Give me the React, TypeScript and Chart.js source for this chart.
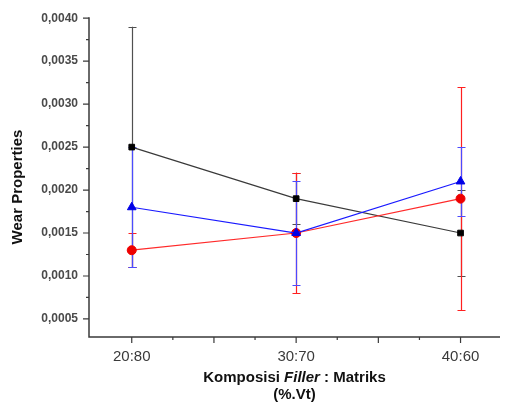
import React, { useEffect, useRef } from "react";
import { Chart, registerables } from "chart.js";

Chart.register(...registerables);

const categories = ["20:80", "30:70", "40:60"];
const blackValues = [0.0025, 0.0019, 0.0015];
const blackErrors = [0.0014, 0.0003, 0.0005];
const redValues = [0.0013, 0.0015, 0.0019];
const redErrors = [0.0002, 0.0007, 0.0013];
const blueValues = [0.0018, 0.0015, 0.0021];
const blueErrors = [0.0007, 0.0006, 0.0004];
const yTickValues = [0.0005, 0.001, 0.0015, 0.002, 0.0025, 0.003, 0.0035, 0.004];
const xTickValues = [0, 1, 2];

const FONT = "'Liberation Sans', Arial, sans-serif";

const series = [
  { values: blueValues, errors: blueErrors, line: "#1a1aff", bar: "#4b4bff", point: "triangle", fill: "#0000e6", radius: 5 },
  { values: redValues, errors: redErrors, line: "#ff2a2a", bar: "#ff2020", point: "circle", fill: "#ee0000", radius: 4.5 },
  { values: blackValues, errors: blackErrors, line: "#3a3a3a", bar: "#505050", point: "rect", fill: "#000000", radius: 4 },
];

const decorPlugin = {
  id: "decor",
  beforeDatasetsDraw(chart: any) {
    const ctx = chart.ctx;
    const xs = chart.scales.x;
    const ys = chart.scales.y;
    ctx.save();
    // error bars: black first, then red, then blue on top
    const orderIdx = [2, 1, 0];
    for (const i of orderIdx) {
      const s = series[i];
      ctx.strokeStyle = s.bar;
      ctx.lineWidth = 1.2;
      s.values.forEach((v, k) => {
        const x = Math.round(xs.getPixelForValue(k)) + 0.5;
        const yt = ys.getPixelForValue(v + s.errors[k]);
        const yb = ys.getPixelForValue(v - s.errors[k]);
        ctx.beginPath();
        ctx.moveTo(x, yt);
        ctx.lineTo(x, yb);
        ctx.moveTo(x - 4, Math.round(yt) + 0.5);
        ctx.lineTo(x + 4, Math.round(yt) + 0.5);
        ctx.moveTo(x - 4, Math.round(yb) + 0.5);
        ctx.lineTo(x + 4, Math.round(yb) + 0.5);
        ctx.stroke();
      });
    }
    ctx.restore();
  },
  afterDraw(chart: any) {
    const ctx = chart.ctx;
    const xs = chart.scales.x;
    const ys = chart.scales.y;
    const area = chart.chartArea;
    ctx.save();
    ctx.strokeStyle = "#3a3a3a";
    ctx.lineWidth = 1.5;
    // axis lines
    ctx.beginPath();
    ctx.moveTo(area.left, area.top - 1);
    ctx.lineTo(area.left, area.bottom);
    ctx.lineTo(area.right, area.bottom);
    ctx.stroke();
    ctx.lineWidth = 1.2;
    // y ticks
    ctx.beginPath();
    for (let i = 0; i < yTickValues.length; i++) {
      const y = ys.getPixelForValue(yTickValues[i]);
      ctx.moveTo(area.left - 6, y);
      ctx.lineTo(area.left, y);
      if (i < yTickValues.length - 1) {
        const ym = ys.getPixelForValue((yTickValues[i] + yTickValues[i + 1]) / 2);
        ctx.moveTo(area.left - 3, ym);
        ctx.lineTo(area.left, ym);
      }
    }
    // x ticks
    for (let i = 0; i < xTickValues.length; i++) {
      const v = xTickValues[i];
      const major = [v, v + 0.5];
      const minor = [v + 0.25, v + 0.75];
      major.forEach((m) => {
        if (m > xs.max) return;
        const x = xs.getPixelForValue(m);
        ctx.moveTo(x, area.bottom);
        ctx.lineTo(x, area.bottom + 6);
      });
      minor.forEach((m) => {
        if (m > xs.max) return;
        const x = xs.getPixelForValue(m);
        ctx.moveTo(x, area.bottom);
        ctx.lineTo(x, area.bottom + 3);
      });
    }
    ctx.stroke();

    // x title
    const cx = (area.left + area.right) / 2;
    const parts = [
      { t: "Komposisi ", f: "bold 15px " + FONT },
      { t: "Filler", f: "italic bold 15px " + FONT },
      { t: " : Matriks", f: "bold 15px " + FONT },
    ];
    let total = 0;
    parts.forEach((p) => {
      ctx.font = p.f;
      total += ctx.measureText(p.t).width;
    });
    let x = cx - total / 2;
    ctx.fillStyle = "#111";
    ctx.textBaseline = "middle";
    ctx.textAlign = "left";
    parts.forEach((p) => {
      ctx.font = p.f;
      ctx.fillText(p.t, x, 378);
      x += ctx.measureText(p.t).width;
    });
    ctx.font = "bold 15px " + FONT;
    ctx.textAlign = "center";
    ctx.fillText("(%.Vt)", cx, 395);

    // y title
    ctx.translate(18, 187);
    ctx.rotate(-Math.PI / 2);
    ctx.textAlign = "center";
    ctx.textBaseline = "middle";
    ctx.fillText("Wear Properties", 0, 0);
    ctx.restore();
  },
};

export default function App() {
  const ref = useRef<HTMLCanvasElement | null>(null);
  useEffect(() => {
    if (!ref.current) return;
    const chart = new Chart(ref.current, {
      type: "line",
      data: {
        datasets: series.map((s) => ({
          data: s.values.map((v, k) => ({ x: k, y: v })),
          borderColor: s.line,
          borderWidth: 1.2,
          backgroundColor: s.fill,
          pointBackgroundColor: s.fill,
          pointBorderColor: s.fill,
          pointStyle: s.point as any,
          pointRadius: s.radius,
          pointBorderWidth: 1,
          tension: 0,
          fill: false,
        })),
      },
      options: {
        animation: false,
        responsive: false,
        maintainAspectRatio: false,
        events: [],
        layout: { padding: { top: 16, left: 0, right: 0, bottom: 0 } },
        plugins: { legend: { display: false }, tooltip: { enabled: false } },
        scales: {
          x: {
            type: "linear",
            min: -0.26,
            max: 2.24,
            grid: { display: false, drawTicks: false },
            border: { display: false },
            afterBuildTicks: (scale: any) => {
              scale.ticks = xTickValues.map((v) => ({ value: v }));
            },
            afterFit: (scale: any) => {
              scale.height = 66;
            },
            ticks: {
              autoSkip: false,
              maxRotation: 0,
              padding: 11,
              color: "#3a3a3a",
              font: { family: FONT, size: 15 },
              callback: (v: any) => categories[Number(v)] ?? "",
            },
          },
          y: {
            type: "linear",
            min: 0.00029,
            max: 0.004,
            grid: { display: false, drawTicks: false },
            border: { display: false },
            afterBuildTicks: (scale: any) => {
              scale.ticks = yTickValues.map((v) => ({ value: v }));
            },
            afterFit: (scale: any) => {
              scale.width = 89;
            },
            ticks: {
              autoSkip: false,
              padding: 11,
              color: "#4a4a4a",
              font: { family: FONT, size: 12, weight: "bold" },
              callback: (v: any) => Number(v).toFixed(4).replace(".", ","),
            },
          },
        },
      },
      plugins: [decorPlugin],
    });
    return () => chart.destroy();
  }, []);
  return (
    <div style={{ position: "fixed", left: 0, top: 0, width: 506, height: 403, background: "#fff" }}>
      <canvas ref={ref} width={506} height={403} style={{ width: 506, height: 403 }} />
    </div>
  );
}
